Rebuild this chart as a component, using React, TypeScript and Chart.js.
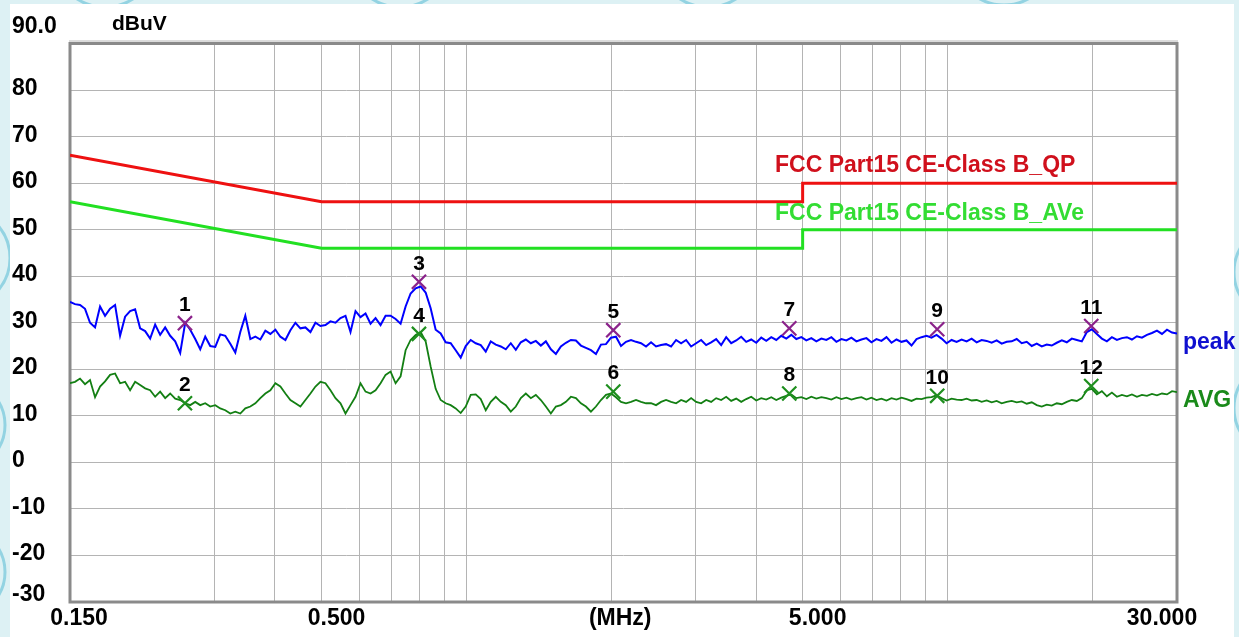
import { useEffect, useRef } from 'react';
import { Chart, registerables } from 'chart.js';

Chart.register(...registerables);

// ---------------- data ----------------
const sweepStartMHz = 0.15;
const sweepStopMHz = 30;

const peakValues = [
  34.5, 34.0, 33.8, 33.0, 30.0, 29.0, 33.5, 31.5, 33.0, 33.8,
  27.2, 31.3, 32.5, 32.9, 28.8, 28.2, 26.6, 29.6, 27.4, 29.0,
  27.2, 26.0, 23.5, 30.0, 28.5, 26.5, 24.3, 27.0, 25.0, 24.8,
  27.5, 27.2, 25.5, 23.6, 28.0, 31.5, 26.5, 27.0, 26.4, 28.3,
  27.6, 28.5, 27.0, 26.3, 28.4, 30.0, 28.8, 29.0, 28.0, 30.0,
  29.3, 29.5, 30.3, 30.0, 31.0, 31.5, 28.0, 32.5, 31.2, 32.0,
  29.8, 31.0, 29.5, 31.5, 31.5, 30.8, 29.8, 33.5, 36.3, 37.4,
  37.8, 36.5, 33.1, 28.5, 27.7, 25.8, 25.6, 24.1, 22.5, 25.0,
  26.3, 25.6, 25.2, 23.8, 26.0, 25.3, 24.9, 24.3, 25.6, 24.2,
  25.8, 26.4, 25.6, 26.1, 25.1, 26.0, 24.3, 23.3, 24.9, 25.7,
  26.3, 26.2, 25.1, 24.6, 24.1, 23.3, 25.3, 25.4, 26.8, 27.0,
  25.0, 25.9, 26.3, 25.9, 25.6, 24.9, 25.8, 24.9, 25.2, 25.4,
  24.9, 26.3, 25.6, 26.3, 24.9, 25.6, 26.3, 25.2, 25.8, 26.5,
  25.2, 26.9, 25.6, 26.2, 27.0, 25.9, 26.4, 25.7, 26.8, 26.1,
  26.9, 26.3, 27.2, 26.6, 27.4, 26.5, 26.9, 26.2, 26.7, 26.0,
  26.6, 26.3, 26.9, 25.9, 26.5, 26.2, 26.8, 26.0, 26.4, 26.7,
  25.8, 26.5, 26.1, 26.9, 25.7, 26.4, 25.9, 26.2, 25.1, 26.5,
  26.9, 27.2, 26.8, 27.4, 26.6, 25.6, 26.3, 25.9, 26.4, 26.0,
  26.6, 25.8, 26.3, 26.1, 25.7, 26.2, 25.5, 25.9, 26.0, 26.5,
  25.6, 25.9, 25.0, 25.5, 24.9, 25.3, 25.1, 25.7, 26.2, 25.8,
  26.6, 26.3, 26.0, 28.0, 28.6, 27.6, 26.6, 26.0, 26.9, 26.3,
  26.7, 26.9, 26.4, 27.1, 26.8, 27.4, 27.8, 28.3, 27.6, 28.5,
  27.9, 27.7,
];

const avgValues = [
  17.0, 17.3, 18.0, 16.8, 17.7, 14.0, 16.3, 17.4, 18.8, 19.1,
  17.0, 17.3, 15.5, 17.3, 16.6, 15.9, 15.5, 14.1, 15.2, 13.8,
  14.8, 13.7, 13.4, 12.7, 12.3, 13.0, 12.3, 12.7, 12.0, 12.3,
  11.6, 11.2, 10.5, 10.9, 10.5, 11.6, 12.0, 12.7, 13.8, 14.8,
  15.5, 17.0, 16.3, 14.8, 13.4, 12.7, 12.0, 13.4, 14.8, 16.3,
  17.3, 17.0, 15.5, 13.8, 12.7, 10.5, 12.3, 14.1, 17.0, 15.2,
  14.8, 15.5, 17.0, 18.8, 19.5, 17.0, 18.5, 24.1, 26.3, 27.4,
  28.0, 26.0, 20.6, 15.8, 13.4, 12.7, 12.3, 11.6, 10.6, 12.0,
  14.5, 14.6, 13.6, 11.2, 13.0, 14.1, 13.0, 12.3, 10.9, 12.0,
  13.8, 14.8, 13.8, 14.5, 13.4, 12.0, 10.5, 12.0, 12.3, 13.0,
  14.1, 13.8, 12.7, 12.0, 10.9, 12.0, 13.4, 14.5, 14.8, 14.0,
  13.0, 12.7, 13.0, 13.4, 13.0, 12.7, 12.7, 12.3, 13.0, 13.4,
  13.0, 12.7, 13.4, 13.0, 13.8, 13.0, 12.7, 13.4, 13.0, 13.8,
  13.4, 14.1, 13.2, 13.7, 13.0, 13.6, 14.1, 13.3, 13.8, 13.5,
  14.0, 13.4, 13.9, 14.3, 14.6, 13.8, 14.0, 13.6, 14.1, 13.7,
  14.0, 13.8, 13.5, 14.0, 13.6, 13.9, 13.5, 13.8, 14.0, 13.5,
  13.9, 13.4, 13.7, 13.3, 13.8, 13.5, 13.9, 13.6, 13.2, 13.7,
  13.6, 13.9, 14.0, 14.4, 13.8, 13.3, 13.7, 13.5, 13.4, 13.7,
  13.3, 13.4, 13.0, 13.3, 12.9, 13.2, 12.7, 13.0, 13.2, 12.9,
  13.1, 12.6, 12.9, 12.3, 12.0, 12.4, 12.2, 12.7, 12.5, 13.0,
  13.4, 13.2, 13.8, 15.5, 15.8, 14.6, 15.3, 14.2, 15.0, 14.1,
  14.5, 14.2, 14.6, 14.1, 14.5, 14.3, 14.7, 14.4, 14.8, 14.6,
  15.3, 15.1,
];

// measurement sweep frequencies (log-spaced receiver grid)
const sweepFreqs = peakValues.map(
  (_, i) => sweepStartMHz * Math.pow(sweepStopMHz / sweepStartMHz, i / (peakValues.length - 1))
);

const limitFreqs = [0.15, 0.5, 5, 5, 30];
const qpLimitValues = [66, 56, 56, 60, 60];
const avLimitValues = [56, 46, 46, 50, 50];

const peakMarkerFreqs = [0.26, 0.797, 2.02, 4.69, 9.52, 19.9];
const peakMarkerValues = [29.9, 38.8, 28.4, 28.8, 28.6, 29.3];
const peakMarkerLabels = ['1', '3', '5', '7', '9', '11'];

const avgMarkerFreqs = [0.26, 0.797, 2.02, 4.69, 9.52, 19.9];
const avgMarkerValues = [12.7, 27.6, 15.2, 14.8, 14.3, 16.4];
const avgMarkerLabels = ['2', '4', '6', '8', '10', '12'];

const xGridValues = [0.3, 0.4, 0.5, 0.6, 0.7, 0.8, 0.9, 1, 2, 3, 4, 5, 6, 7, 8, 9, 10, 20];
const xLabelValues = [0.15, 0.5, 2, 5, 30];
const xLabelTexts = ['0.150', '0.500', '(MHz)', '5.000', '30.000'];

const yTickValues = [90, 80, 70, 60, 50, 40, 30, 20, 10, 0, -10, -20, -30];
const yTickLabels = ['90.0', '80', '70', '60', '50', '40', '30', '20', '10', '0', '-10', '-20', '-30'];

const yUnit = 'dBuV';
const qpLimitName = 'FCC Part15 CE-Class B_QP';
const avLimitName = 'FCC Part15 CE-Class B_AVe';
const peakName = 'peak';
const avgName = 'AVG';

// ---------------- styling ----------------
const FONT = '"Liberation Sans", Arial, sans-serif';
const xLabelShift = [9, 15, 9, 15, -15];

const emcPlugin = {
  id: 'emcDecor',
  beforeDraw(chart: any) {
    const { ctx, width, height } = chart;
    ctx.save();
    ctx.fillStyle = '#ddf1f4';
    ctx.fillRect(0, 0, width, height);
    ctx.strokeStyle = '#93d3e2';
    ctx.lineWidth = 3;
    const circles = [
      [105, -45, 52], [400, -45, 52], [708, -45, 52], [1004, -45, 50],
      [-40, 258, 50], [-40, 425, 45], [-40, 572, 45],
      [1282, 272, 48], [1282, 408, 48],
    ];
    for (const [cx, cy, r] of circles) {
      ctx.beginPath();
      ctx.arc(cx, cy, r, 0, Math.PI * 2);
      ctx.stroke();
    }
    ctx.fillStyle = '#ffffff';
    ctx.fillRect(10, 4, 1224, height - 4);
    ctx.restore();
  },
  beforeDatasetsDraw(chart: any) {
    const { ctx, chartArea } = chart;
    ctx.save();
    ctx.strokeStyle = '#8a8a8a';
    ctx.lineWidth = 3;
    ctx.strokeRect(chartArea.left, chartArea.top, chartArea.right - chartArea.left, chartArea.bottom - chartArea.top);
    ctx.strokeStyle = '#b8b8b8';
    ctx.lineWidth = 1;
    ctx.beginPath();
    ctx.moveTo(chartArea.left - 1, chartArea.top - 2.5);
    ctx.lineTo(chartArea.right + 1, chartArea.top - 2.5);
    ctx.stroke();
    ctx.restore();
  },
  afterDraw(chart: any) {
    const { ctx } = chart;
    const xs = chart.scales.x;
    const ys = chart.scales.y;
    ctx.save();
    ctx.textBaseline = 'alphabetic';

    // y tick labels
    ctx.fillStyle = '#000000';
    ctx.font = `bold 23px ${FONT}`;
    ctx.textAlign = 'left';
    yTickValues.forEach((v, i) => {
      const py = ys.getPixelForValue(v);
      let base = py + 5;
      if (i === 0) base = py - 10.5;
      if (i === yTickValues.length - 1) base = py - 1;
      ctx.fillText(yTickLabels[i], 12, base);
    });
    ctx.font = `bold 21px ${FONT}`;
    ctx.fillText(yUnit, 112, 30);

    // x labels
    ctx.font = `bold 23px ${FONT}`;
    ctx.textAlign = 'center';
    xLabelValues.forEach((v, i) => {
      ctx.fillText(xLabelTexts[i], xs.getPixelForValue(v) + xLabelShift[i], 625);
    });

    // limit names & trace names
    ctx.textAlign = 'left';
    ctx.font = `bold 23px ${FONT}`;
    ctx.fillStyle = '#d0101c';
    ctx.fillText(qpLimitName, 775, 172);
    ctx.fillStyle = '#33dd33';
    ctx.fillText(avLimitName, 775, 220);
    ctx.fillStyle = '#1010d0';
    ctx.fillText(peakName, 1183, 349);
    ctx.fillStyle = '#1a8a1a';
    ctx.fillText(avgName, 1183, 407);

    // marker numbers
    ctx.fillStyle = '#000000';
    ctx.font = `bold 21px ${FONT}`;
    ctx.textAlign = 'center';
    ctx.textBaseline = 'middle';
    const drawNums = (dsIndex: number, labels: string[]) => {
      const meta = chart.getDatasetMeta(dsIndex);
      meta.data.forEach((el: any, j: number) => {
        ctx.fillText(labels[j], el.x, el.y - 18);
      });
    };
    drawNums(0, peakMarkerLabels);
    drawNums(1, avgMarkerLabels);
    ctx.restore();
  },
};

export default function App() {
  const canvasRef = useRef<HTMLCanvasElement | null>(null);

  useEffect(() => {
    document.body.style.margin = '0';
    const canvas = canvasRef.current;
    if (!canvas) return;

    const chart = new Chart(canvas, {
      type: 'line',
      data: {
        datasets: [
          {
            label: 'peak markers',
            data: peakMarkerFreqs.map((f, i) => ({ x: f, y: peakMarkerValues[i] })),
            showLine: false,
            pointStyle: 'crossRot',
            pointRadius: 10,
            pointBorderWidth: 2.2,
            pointBorderColor: '#8b238b',
            borderColor: '#8b238b',
            backgroundColor: '#8b238b',
          },
          {
            label: 'avg markers',
            data: avgMarkerFreqs.map((f, i) => ({ x: f, y: avgMarkerValues[i] })),
            showLine: false,
            pointStyle: 'crossRot',
            pointRadius: 10,
            pointBorderWidth: 2.2,
            pointBorderColor: '#1f8f1f',
            borderColor: '#1f8f1f',
            backgroundColor: '#1f8f1f',
          },
          {
            label: peakName,
            data: sweepFreqs.map((f, i) => ({ x: f, y: peakValues[i] })),
            borderColor: '#0000ff',
            borderWidth: 2,
            pointRadius: 0,
            tension: 0,
          },
          {
            label: avgName,
            data: sweepFreqs.map((f, i) => ({ x: f, y: avgValues[i] })),
            borderColor: '#137f13',
            borderWidth: 1.8,
            pointRadius: 0,
            tension: 0,
          },
          {
            label: qpLimitName,
            data: limitFreqs.map((f, i) => ({ x: f, y: qpLimitValues[i] })),
            borderColor: '#ee1111',
            borderWidth: 3,
            pointRadius: 0,
            tension: 0,
          },
          {
            label: avLimitName,
            data: limitFreqs.map((f, i) => ({ x: f, y: avLimitValues[i] })),
            borderColor: '#22e022',
            borderWidth: 3,
            pointRadius: 0,
            tension: 0,
          },
        ],
      },
      options: {
        responsive: false,
        animation: false,
        devicePixelRatio: 1,
        layout: { padding: { left: 70, top: 43.5, right: 62, bottom: 35 } },
        plugins: {
          legend: { display: false },
          tooltip: { enabled: false },
          title: { display: false },
        },
        scales: {
          x: {
            type: 'logarithmic',
            min: sweepStartMHz,
            max: sweepStopMHz,
            afterBuildTicks: (axis: any) => {
              axis.ticks = xGridValues.map((v) => ({ value: v }));
            },
            afterFit: (axis: any) => {
              axis.height = 0;
            },
            ticks: { display: false },
            grid: { color: '#b4b4b4', lineWidth: 1, drawTicks: false },
            border: { display: false },
          },
          y: {
            type: 'linear',
            min: -30,
            max: 90,
            ticks: { display: false, stepSize: 10 },
            afterFit: (axis: any) => {
              axis.width = 0;
            },
            grid: { color: '#b4b4b4', lineWidth: 1, drawTicks: false },
            border: { display: false },
          },
        },
      },
      plugins: [emcPlugin],
    } as any);

    return () => {
      chart.destroy();
    };
  }, []);

  return (
    <div style={{ width: 1239, height: 637 }}>
      <canvas ref={canvasRef} width={1239} height={637} style={{ display: 'block' }} />
    </div>
  );
}
